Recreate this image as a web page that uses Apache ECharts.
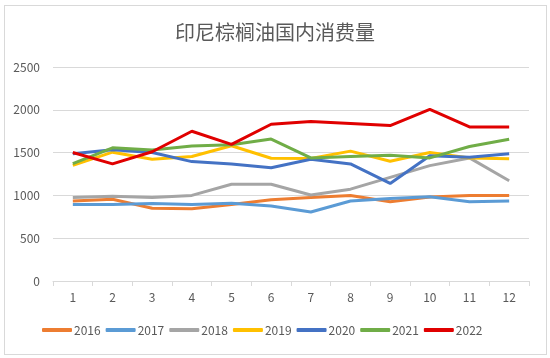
<!DOCTYPE html>
<html><head><meta charset="utf-8">
<script src="https://cdn.jsdelivr.net/npm/echarts@6/dist/echarts.min.js"></script>
<style>html,body{margin:0;padding:0;background:#fff}#c{width:550px;height:358px}
#frame{position:absolute;left:4px;top:5px;width:541px;height:348px;border:1px solid #d9d9d9;pointer-events:none}</style>
</head><body><div id="c"></div><div id="frame"></div>
<script>
const months = ['1','2','3','4','5','6','7','8','9','10','11','12'];
const years = ['2016','2017','2018','2019','2020','2021','2022'];
const s2016 = [935, 955, 850, 845, 895, 950, 975, 1000, 925, 980, 1000, 1000];
const s2017 = [895, 895, 905, 895, 908, 876, 806, 935, 965, 983, 927, 935];
const s2018 = [975, 990, 975, 1000, 1130, 1130, 1005, 1073, 1210, 1348, 1438, 1171];
const s2019 = [1350, 1505, 1423, 1454, 1580, 1434, 1430, 1517, 1399, 1501, 1438, 1427];
const s2020 = [1486, 1533, 1501, 1395, 1368, 1324, 1423, 1368, 1140, 1462, 1446, 1486];
const s2021 = [1370, 1556, 1530, 1576, 1592, 1658, 1438, 1454, 1470, 1438, 1572, 1655];
const s2022 = [1501, 1368, 1510, 1749, 1596, 1831, 1863, 1840, 1816, 2004, 1800, 1800];
const allData = [s2016, s2017, s2018, s2019, s2020, s2021, s2022];
const colors = ['#ED7D31', '#5B9BD5', '#A5A5A5', '#FFC000', '#4472C4', '#70AD47', '#E00000'];
const font = '"Microsoft YaHei","Noto Sans CJK SC",sans-serif';
const chart = echarts.init(document.getElementById('c'));
chart.setOption({
  animation: false,
  title: { text: '印尼棕榈油国内消费量', left: 'center', top: 17,
    textStyle: { fontSize: 20, fontWeight: 'normal', color: '#595959', fontFamily: font } },
  legend: { bottom: 17, left: 37, itemWidth: 30, itemHeight: 4, itemGap: 5,
    textStyle: { fontSize: 12, color: '#595959', fontFamily: font, padding: [0, 0, 0, -3] },
    data: years.map((y, i) => ({ name: y, icon: 'roundRect' })) },
  grid: { left: 53, right: 21, top: 67, bottom: 77 },
  xAxis: { type: 'category', data: months, boundaryGap: true,
    axisLine: { lineStyle: { color: '#d9d9d9' } },
    axisTick: { show: true, length: 5, lineStyle: { color: '#d9d9d9' } },
    axisLabel: { color: '#595959', fontSize: 12, margin: 10, fontFamily: font } },
  yAxis: { type: 'value', min: 0, max: 2500, interval: 500,
    axisLine: { show: false }, axisTick: { show: false },
    splitLine: { lineStyle: { color: '#d9d9d9' } },
    axisLabel: { color: '#595959', fontSize: 12, margin: 13, fontFamily: font,
      formatter: v => String(v) } },
  series: years.map((y, i) => ({
    name: y, type: 'line', data: allData[i], symbol: 'none',
    lineStyle: { width: 3, color: colors[i] }, itemStyle: { color: colors[i] }
  }))
});
</script></body></html>
